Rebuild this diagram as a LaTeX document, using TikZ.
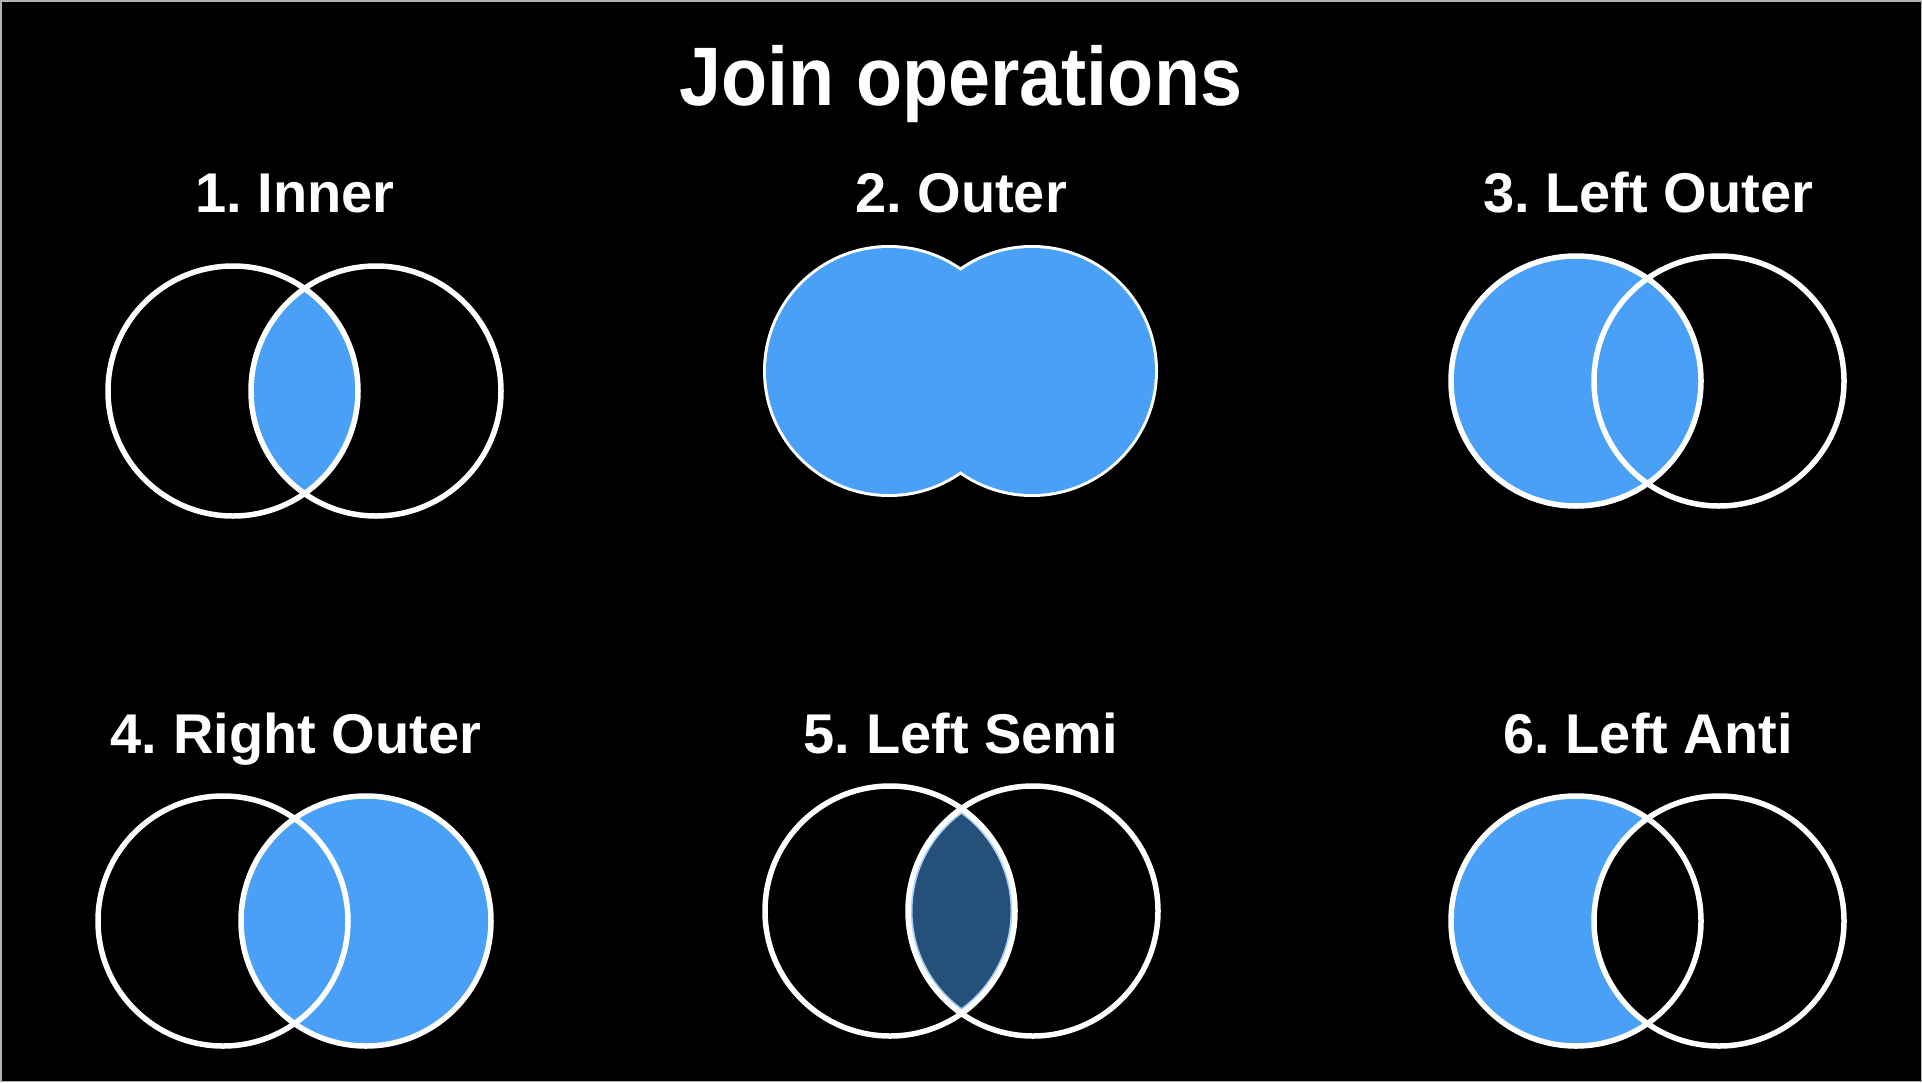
\documentclass[tikz,border=0pt]{standalone}
\usepackage{fontspec}
\setmainfont{Liberation Sans}
\newfontfamily\titlefont[FakeStretch=0.91]{Liberation Sans}
\definecolor{joinblue}{HTML}{4A9FF6}
\definecolor{semiblue}{HTML}{25507A}
\definecolor{semiedge}{HTML}{A8D0F8}
\tikzset{
  ring/.style={draw=white, line width=5.5pt},
  heading/.style={text=white, anchor=base, inner sep=0pt,
                  font=\fontsize{56}{60}\selectfont\bfseries},
}

\begin{document}
\begin{tikzpicture}[x=1pt, y=-1pt]
        \fill[black] (0,0) rectangle (1922,1082);
        \useasboundingbox (0,0) rectangle (1922,1082);
        \draw[gray!60, line width=1.5pt] (0.75,0.75) rectangle (1921.25,1081.25);

        %labels
        \node[heading, font=\titlefont\fontsize{83}{90}\selectfont\bfseries] (title) at (961,105) {Join operations};
        \node[heading] (inner)  at (295,212)  {1.\kern-5pt{} Inner};
        \node[heading] (outer)  at (961,212)  {2.\kern-5pt{} Outer};
        \node[heading] (louter) at (1648,212) {3.\kern-5pt{} Left Outer};
        \node[heading] (router) at (296,753)  {4.\kern-5pt{} Right Outer};
        \node[heading] (lsemi)  at (961,753)  {5.\kern-5pt{} Left Semi};
        \node[heading] (lanti)  at (1648,753) {6.\kern-5pt{} Left Anti};

        %centres
        \coordinate (inA) at (233,391);  \coordinate (inB) at (376,391);
        \coordinate (ouA) at (889,371);  \coordinate (ouB) at (1032,371);
        \coordinate (loA) at (1576,381); \coordinate (loB) at (1719,381);
        \coordinate (roA) at (223,921);  \coordinate (roB) at (366,921);
        \coordinate (seA) at (890,911);  \coordinate (seB) at (1033,911);
        \coordinate (anA) at (1576,921); \coordinate (anB) at (1719,921);

        %1 inner
        \begin{scope}
            \clip (inA) circle[radius=125pt];
            \fill[joinblue] (inB) circle[radius=125pt];
        \end{scope}
        \draw[ring] (inA) circle[radius=125pt] (inB) circle[radius=125pt];

        %2 outer
        \draw[white, line width=6pt] (ouA) circle[radius=123pt] (ouB) circle[radius=123pt];
        \fill[joinblue] (ouA) circle[radius=123pt] (ouB) circle[radius=123pt];

        %3 left outer
        \fill[joinblue] (loA) circle[radius=125pt];
        \draw[ring] (loA) circle[radius=125pt] (loB) circle[radius=125pt];

        %4 right outer
        \fill[joinblue] (roB) circle[radius=125pt];
        \draw[ring] (roA) circle[radius=125pt] (roB) circle[radius=125pt];

        %5 left semi
        \begin{scope}
            \clip (seA) circle[radius=125pt];
            \clip (seB) circle[radius=125pt];
            \fill[semiblue] (seA) circle[radius=125pt];
            \draw[semiedge, line width=9pt] (seA) circle[radius=125pt] (seB) circle[radius=125pt];
        \end{scope}
        \draw[ring] (seA) circle[radius=125pt] (seB) circle[radius=125pt];

        %6 left anti
        \fill[joinblue] (anA) circle[radius=125pt];
        \begin{scope}
            \clip (anA) circle[radius=125pt];
            \fill[black] (anB) circle[radius=125pt];
        \end{scope}
        \draw[ring] (anA) circle[radius=125pt] (anB) circle[radius=125pt];

\end{tikzpicture}
\end{document}
